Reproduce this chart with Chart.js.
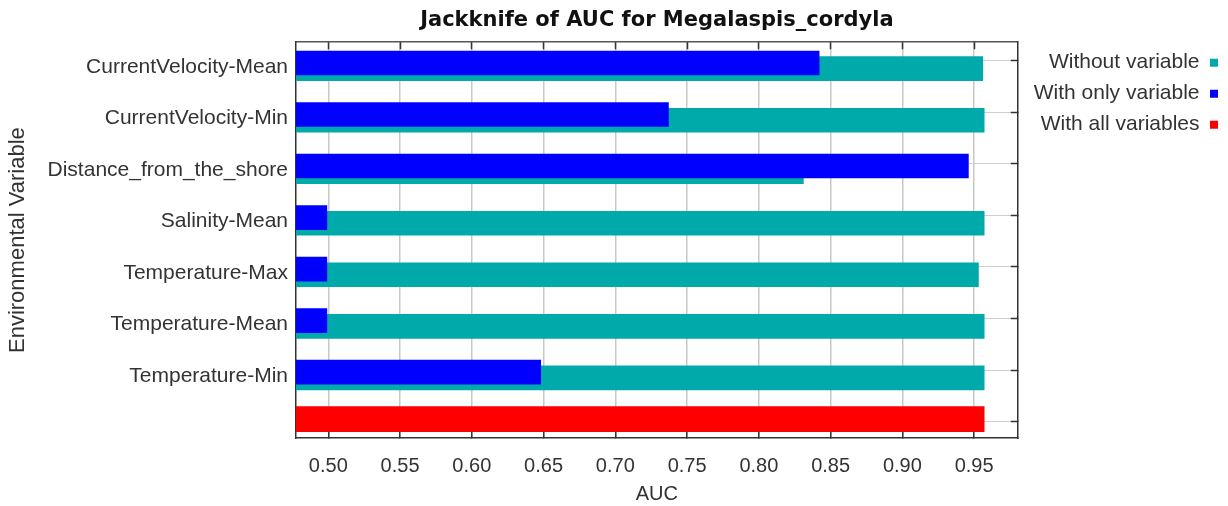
<!DOCTYPE html>
<html>
<head>
<meta charset="utf-8">
<script src="https://cdn.jsdelivr.net/npm/chart.js@4.4.1/dist/chart.umd.min.js"></script>
<style>
html, body { margin: 0; padding: 0; background: #ffffff; }
#wrap { width: 1228px; height: 506px; position: relative; }
</style>
</head>
<body>
<div id="wrap"><canvas id="c"></canvas></div>
<script>
// ---- data ----
const categories = [
  'CurrentVelocity-Mean',
  'CurrentVelocity-Min',
  'Distance_from_the_shore',
  'Salinity-Mean',
  'Temperature-Max',
  'Temperature-Mean',
  'Temperature-Min'
];
const withoutVariable  = [0.956, 0.957, 0.831, 0.957, 0.953, 0.957, 0.957];
const withOnlyVariable = [0.842, 0.737, 0.946, 0.499, 0.499, 0.499, 0.648];
const withAllVariables = [0.957];
const xTickValues = [0.50, 0.55, 0.60, 0.65, 0.70, 0.75, 0.80, 0.85, 0.90, 0.95];
const seriesLabels = ['Without variable', 'With only variable', 'With all variables'];
const chartTitle = 'Jackknife of AUC for Megalaspis_cordyla';
const xTitle = 'AUC';
const yTitle = 'Environmental Variable';

// ---- layout / style constants ----
const FONT = "'Liberation Sans', Arial, sans-serif";
const X_MIN = 0.4775, X_MAX = 0.9804;
const ROW_MIN = -0.3628, ROW_MAX = 7.3191;
const PLOT_H = 396;
const ROW_PX = PLOT_H / (ROW_MAX - ROW_MIN);
const Y2_WIDTH = 6;
function shifted(px) { return { min: ROW_MIN - px / ROW_PX, max: ROW_MAX - px / ROW_PX }; }

const rowLabels = categories.concat(['']);
const rowTicks = rowLabels.map((_, i) => i);
const allRow = categories.length;

const rowTickBuilder = s => { s.ticks = rowTicks.map(v => ({ value: v })); };
const xTickBuilder = s => { s.ticks = xTickValues.map(v => ({ value: v })); };

const hiddenRowAxis = (px) => Object.assign({
  type: 'linear', display: false, reverse: true, offset: false,
  grid: { offset: false }, afterBuildTicks: rowTickBuilder
}, shifted(px));

new Chart(document.getElementById('c'), {
  type: 'bar',
  data: {
    datasets: [
      {
        label: seriesLabels[0],
        data: withoutVariable.map((v, i) => ({ x: v, y: i })),
        backgroundColor: '#00aaaa',
        yAxisID: 'yTeal', xAxisID: 'x',
        order: 1
      },
      {
        label: seriesLabels[1],
        data: withOnlyVariable.map((v, i) => ({ x: v, y: i })),
        backgroundColor: '#0000ff',
        yAxisID: 'yBlue', xAxisID: 'x',
        order: 0
      },
      {
        label: seriesLabels[2],
        data: withAllVariables.map(v => ({ x: v, y: allRow })),
        backgroundColor: '#ff0000',
        yAxisID: 'yRed', xAxisID: 'x',
        barThickness: 25,
        order: 0
      }
    ]
  },
  options: {
    indexAxis: 'y',
    responsive: true,
    maintainAspectRatio: false,
    animation: false,
    layout: { padding: 0 },
    datasets: {
      bar: { grouped: false, barThickness: 24, borderWidth: 0, base: X_MIN }
    },
    font: { family: FONT },
    plugins: {
      tooltip: { enabled: false },
      title: {
        display: true,
        text: chartTitle,
        fullSize: false,
        color: '#111111',
        font: { family: "'DejaVu Sans', sans-serif", weight: 'bold', size: 21 },
        padding: { top: 8, bottom: 9 }
      },
      legend: {
        position: 'right',
        align: 'start',
        fullSize: false,
        rtl: true,
        labels: {
          boxWidth: 8,
          boxHeight: 8,
          padding: 10,
          color: '#333333',
          font: { family: FONT, size: 21 },
          sort: (a, b) => a.datasetIndex - b.datasetIndex
        }
      }
    },
    scales: {
      x: {
        type: 'linear', position: 'bottom', min: X_MIN, max: X_MAX, beginAtZero: false,
        afterBuildTicks: xTickBuilder,
        afterFit: s => { s.height = 68; },
        ticks: {
          autoSkip: false, maxRotation: 0, padding: 23, color: '#333333',
          font: { family: FONT, size: 20 },
          callback: v => Number(v).toFixed(2)
        },
        grid: { color: '#c8c8c8', lineWidth: 1.5, tickLength: -7, tickColor: '#333333', tickWidth: 1.5 },
        border: { display: true, color: '#333333', width: 1.5 },
        title: { display: true, text: xTitle, color: '#333333', font: { family: FONT, size: 20 }, padding: { top: 0, bottom: 0 } }
      },
      x2: {
        type: 'linear', position: 'top', min: X_MIN, max: X_MAX, beginAtZero: false,
        afterBuildTicks: xTickBuilder,
        afterFit: s => { s.height = 0; },
        ticks: { display: false },
        grid: { drawOnChartArea: false, tickLength: -7, tickColor: '#333333', tickWidth: 1.5 },
        border: { display: true, color: '#555555', width: 1.5 }
      },
      y: {
        type: 'linear', position: 'left', reverse: true, offset: false,
        min: ROW_MIN, max: ROW_MAX,
        afterBuildTicks: rowTickBuilder,
        afterFit: s => { s.width = 296; },
        ticks: {
          autoSkip: false, padding: 8, labelOffset: 6, color: '#333333',
          font: { family: FONT, size: 21 },
          callback: v => rowLabels[v] ?? ''
        },
        grid: { offset: false, color: '#d0d0d0', lineWidth: 1, drawTicks: false },
        border: { display: true, color: '#333333', width: 1.5 },
        title: { display: true, text: yTitle, color: '#333333', font: { family: FONT, size: 22 }, padding: { top: 5, bottom: 0 } }
      },
      y2: {
        type: 'linear', position: 'right', reverse: true, offset: false,
        min: ROW_MIN, max: ROW_MAX,
        afterBuildTicks: rowTickBuilder,
        afterFit: s => { s.width = Y2_WIDTH; },
        ticks: { display: false },
        grid: { offset: false, drawOnChartArea: false, tickLength: -7, tickColor: '#333333', tickWidth: 1.5 },
        border: { display: true, color: '#333333', width: 1.5 }
      },
      yTeal: hiddenRowAxis(7.8),
      yBlue: hiddenRowAxis(2.1),
      yRed: hiddenRowAxis(-2.4)
    }
  }
});
</script>
</body>
</html>
